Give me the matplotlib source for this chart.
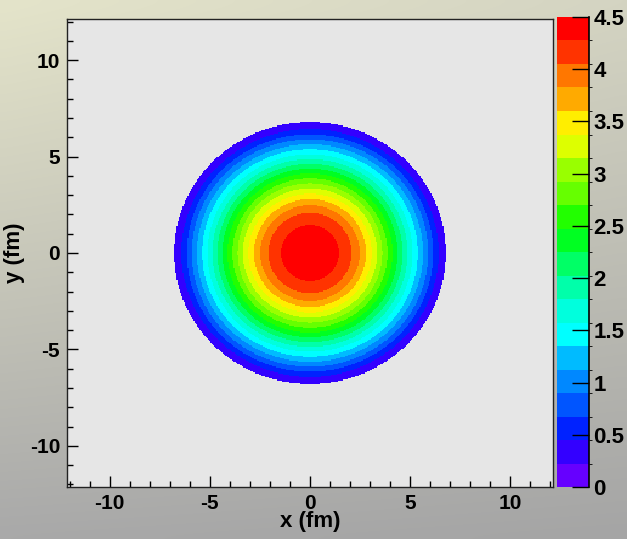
import numpy as np
import matplotlib
matplotlib.use("Agg")
import matplotlib.pyplot as plt
from matplotlib.colors import ListedColormap, BoundaryNorm

plt.rcParams['font.family'] = ['Liberation Sans', 'DejaVu Sans']
plt.rcParams['font.weight'] = 'bold'
plt.rcParams['axes.unicode_minus'] = False

# radial profile (fm -> value)
ring_radius = [0.0, 1.45, 2.08, 2.48, 2.80, 3.08, 3.35, 3.61, 3.87, 4.12,
               4.37, 4.62, 4.87, 5.12, 5.38, 5.64, 5.90, 6.15, 6.42, 6.78]
ring_value = [4.45, 4.275, 4.05, 3.825, 3.60, 3.375, 3.15, 2.925, 2.70, 2.475,
              2.25, 2.025, 1.80, 1.575, 1.35, 1.125, 0.90, 0.675, 0.45, 0.23]

levels = np.linspace(0, 4.5, 21)
band_colors = ['#6600ff', '#3300ff', '#0022ff', '#0055ff', '#0088ff', '#00bbff',
               '#00ffff', '#00ffdd', '#00ffaa', '#00ff66', '#00ff22', '#22ff00',
               '#66ff00', '#99ff00', '#ddff00', '#ffee00', '#ffaa00', '#ff7700',
               '#ff3300', '#ff0000']
cbar_ticks = [0, 0.5, 1, 1.5, 2, 2.5, 3, 3.5, 4, 4.5]
cbar_labels = ['0', '0.5', '1', '1.5', '2', '2.5', '3', '3.5', '4', '4.5']
axis_ticks = [-10, -5, 0, 5, 10]
lim = 12.13
nbins = 400

edges = np.linspace(-lim, lim, nbins + 1)
centers = 0.5 * (edges[1:] + edges[:-1])
X, Y = np.meshgrid(centers, centers)
R = np.hypot(X, Y)
Z = np.interp(R, ring_radius, ring_value, right=np.nan)
Z = np.ma.masked_invalid(Z)

cmap = ListedColormap(band_colors)
norm = BoundaryNorm(levels, cmap.N)

fig = plt.figure(figsize=(6.27, 5.39), dpi=100)

# slide-like gradient background
bg = fig.add_axes([0, 0, 1, 1])
bg.axis('off')
tl = np.array([0xe4, 0xe4, 0xca]) / 255
tr = np.array([0xd4, 0xd4, 0xc2]) / 255
bl = np.array([0xa9, 0xa9, 0xa9]) / 255
br = np.array([0xa5, 0xa5, 0xa5]) / 255
u = np.linspace(0, 1, 64)[None, :, None]
v = np.linspace(0, 1, 64)[:, None, None]
grad = (1 - v) * ((1 - u) * tl + u * tr) + v * ((1 - u) * bl + u * br)
bg.imshow(grad, aspect='auto', extent=[0, 1, 0, 1], interpolation='bicubic')
bg.set_xlim(0, 1)
bg.set_ylim(0, 1)

W, H = 627, 539
ax = fig.add_axes([67 / W, 1 - 487 / H, (553 - 67) / W, (487 - 19) / H])
ax.set_facecolor('#e6e6e6')
ax.pcolormesh(edges, edges, Z, cmap=cmap, norm=norm)
ax.set_xlim(-lim, lim)
ax.set_ylim(-lim, lim)
ax.set_xticks(axis_ticks)
ax.set_yticks(axis_ticks)
ax.set_xticks(np.arange(-12, 13, 1), minor=True)
ax.set_yticks(np.arange(-12, 13, 1), minor=True)
ax.tick_params(which='major', direction='in', length=8, width=1, labelsize=15, pad=5)
ax.tick_params(which='minor', direction='in', length=4, width=1)
for s in ax.spines.values():
    s.set_linewidth(1)
    s.set_color('#222222')
ax.set_xlabel('x (fm)', fontsize=16, fontweight='bold')
ax.set_ylabel('y (fm)', fontsize=16, fontweight='bold')
ax.xaxis.set_label_coords(0.5, -0.052)
ax.yaxis.set_label_coords(-0.086, 0.5)

cax = fig.add_axes([557 / W, 1 - 487 / H, (589 - 557) / W, (487 - 17) / H])
cb = fig.colorbar(ax.collections[0], cax=cax, ticks=cbar_ticks)
cb.outline.set_visible(False)
cb.ax.set_yticklabels(cbar_labels)
cb.ax.tick_params(direction='in', length=12, width=1, labelsize=16, pad=3, color='k')
cb.ax.plot([1, 1], [0, 4.5], color='k', lw=1.2, clip_on=False)

fig.savefig('out.png', dpi=100)
